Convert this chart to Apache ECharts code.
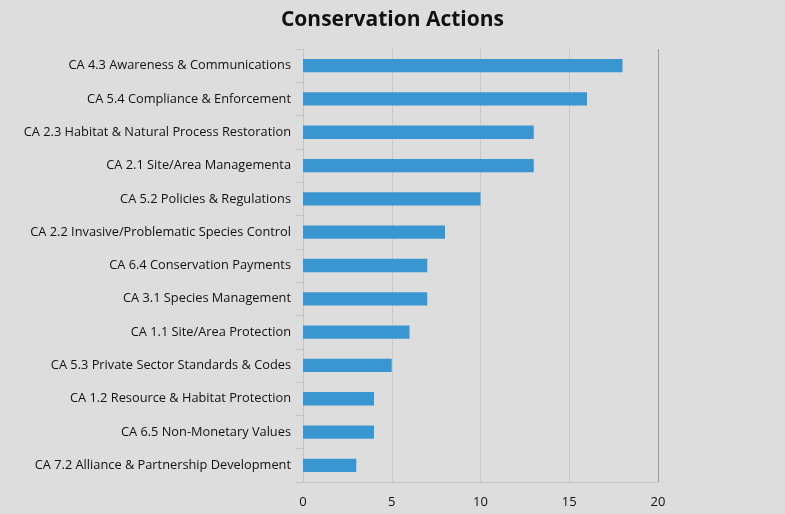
<!DOCTYPE html>
<html><head><meta charset="utf-8">
<script src="https://cdn.jsdelivr.net/npm/echarts@6/dist/echarts.min.js"></script>
<style>html,body{margin:0;padding:0;background:#dddddd;}#c{width:785px;height:514px;}</style>
</head><body><div id="c"></div>
<script>
var categories = [
  "CA 4.3 Awareness & Communications",
  "CA 5.4 Compliance & Enforcement",
  "CA 2.3 Habitat & Natural Process Restoration",
  "CA 2.1 Site/Area Managementa",
  "CA 5.2 Policies & Regulations",
  "CA 2.2 Invasive/Problematic Species Control",
  "CA 6.4 Conservation Payments",
  "CA 3.1 Species Management",
  "CA 1.1 Site/Area Protection",
  "CA 5.3 Private Sector Standards & Codes",
  "CA 1.2 Resource & Habitat Protection",
  "CA 6.5 Non-Monetary Values",
  "CA 7.2 Alliance & Partnership Development"
];
var values = [18, 16, 13, 13, 10, 8, 7, 7, 6, 5, 4, 4, 3];
var xTicks = [0, 5, 10, 15, 20];

var chart = echarts.init(document.getElementById('c'));
chart.setOption({
  backgroundColor: '#dddddd',
  animation: false,
  title: {
    text: 'Conservation Actions', left: 'center', top: 5,
    textStyle: { fontFamily: 'Open Sans', fontWeight: 'bold', fontSize: 21, color: '#111' }
  },
  grid: { left: 303, right: 127, top: 49, bottom: 32, containLabel: false },
  xAxis: {
    type: 'value', min: xTicks[0], max: xTicks[xTicks.length - 1], interval: 5,
    axisLine: { show: true, lineStyle: { color: '#c4c4c4' } },
    axisTick: { show: false },
    axisLabel: { color: '#111', fontFamily: 'Open Sans', fontSize: 13, margin: 14 },
    splitLine: { show: true, lineStyle: { color: ['#c8c8c8', '#c8c8c8', '#c8c8c8', '#c8c8c8', '#9a9a9a'] } }
  },
  yAxis: {
    type: 'category', data: categories, inverse: true,
    axisLine: { show: true, lineStyle: { color: '#c4c4c4' } },
    axisTick: { show: true, length: 7, lineStyle: { color: '#c4c4c4' } },
    axisLabel: { color: '#111', fontFamily: 'Open Sans', fontSize: 12.8, margin: 12 }
  },
  series: [{
    type: 'bar', data: values, barWidth: '40%',
    itemStyle: { color: '#3a96d0' }
  }]
});
</script></body></html>
